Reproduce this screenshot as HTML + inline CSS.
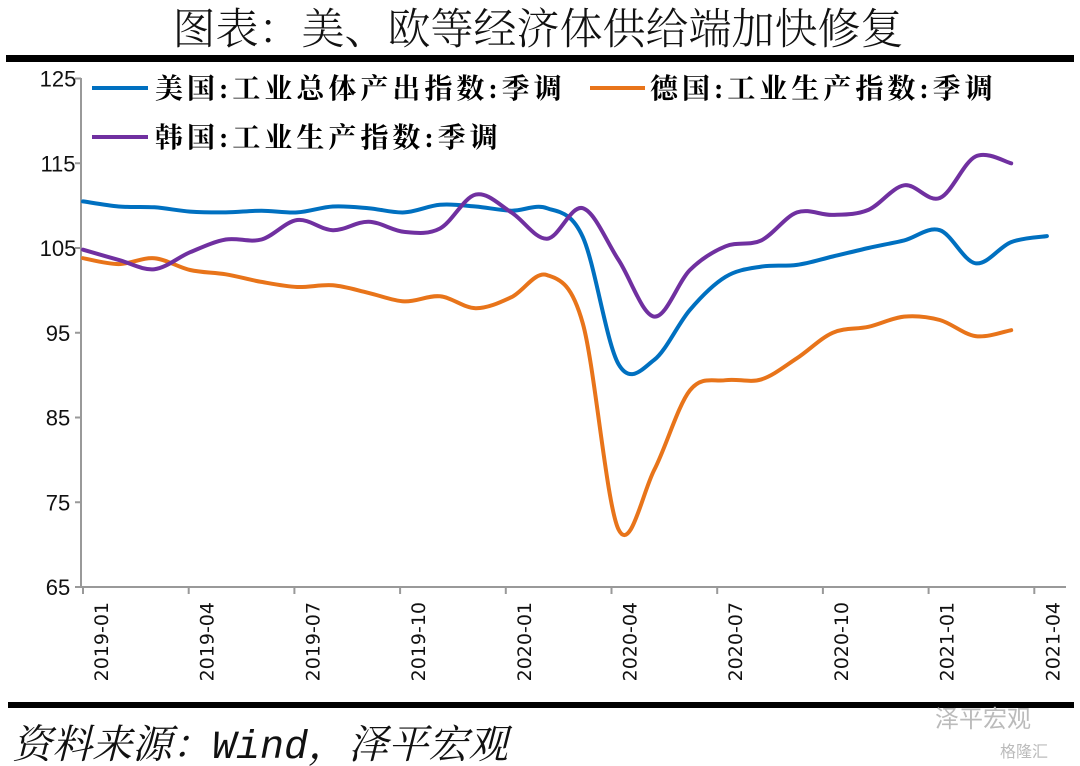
<!DOCTYPE html>
<html><head><meta charset="utf-8">
<style>
body{margin:0;background:#fff;}
svg{display:block;}
</style></head>
<body>
<svg id="chart" width="1080" height="766" viewBox="0 0 1080 766" xmlns="http://www.w3.org/2000/svg">
<text x="538" y="44" text-anchor="middle" font-family="'Noto Serif CJK SC','Liberation Serif',serif" font-size="43" font-weight="300" fill="#111">图表：美、欧等经济体供给端加快修复</text>
<rect x="6" y="55" width="1068" height="7" fill="#000"/>
<g id="axes"></g>
<g id="series"></g>
<g>
 <g>
  <line x1="92" y1="88" x2="148" y2="88" stroke="#0070C0" stroke-width="4"/>
  <text x="155" y="98" font-family="'Liberation Serif','Noto Serif CJK SC',serif" font-size="28" letter-spacing="4" font-weight="bold" fill="#000">美国:工业总体产出指数:季调</text>
 </g>
 <g>
  <line x1="590" y1="88" x2="645" y2="88" stroke="#E8741A" stroke-width="4"/>
  <text x="650" y="98" font-family="'Liberation Serif','Noto Serif CJK SC',serif" font-size="28" letter-spacing="4" font-weight="bold" fill="#000">德国:工业生产指数:季调</text>
 </g>
 <g>
  <line x1="92" y1="137" x2="148" y2="137" stroke="#7030A0" stroke-width="4"/>
  <text x="155" y="147" font-family="'Liberation Serif','Noto Serif CJK SC',serif" font-size="28" letter-spacing="4" font-weight="bold" fill="#000">韩国:工业生产指数:季调</text>
 </g>
</g>
<rect x="8" y="702" width="1066" height="6" fill="#000"/>
<text x="12" y="758" font-family="'Liberation Mono','Noto Serif CJK SC',serif" font-style="italic" font-size="40" fill="#111">资料来源：Wind，泽平宏观</text>
<text x="935" y="727" font-family="'Noto Sans CJK SC',sans-serif" font-size="24" fill="#bbb">泽平宏观</text>
<text x="1000" y="757" font-family="'Noto Sans CJK SC',sans-serif" font-size="16" fill="#bbb">格隆汇</text>
</svg>
<script>
const yTicks=[65,75,85,95,105,115,125];
const xTickLabels=["2019-01","2019-04","2019-07","2019-10","2020-01","2020-04","2020-07","2020-10","2021-01","2021-04"];
const usValues=[110.5,109.9,109.8,109.3,109.2,109.4,109.2,109.9,109.7,109.2,110.1,109.9,109.4,109.7,106.3,91.3,91.8,97.7,101.6,102.8,103.0,104.0,105.0,105.9,107.1,103.2,105.7,106.4];
const deValues=[103.8,103.1,103.8,102.4,101.9,101.0,100.4,100.6,99.7,98.7,99.3,97.9,99.2,101.8,96.1,71.8,78.8,88.2,89.4,89.5,92.0,95.0,95.7,96.9,96.5,94.6,95.3];
const krValues=[104.8,103.6,102.5,104.5,106.0,106.0,108.3,107.1,108.1,106.9,107.3,111.3,109.2,106.1,109.7,103.6,96.9,102.4,105.2,105.9,109.2,108.9,109.5,112.4,110.9,115.8,115.0];
const NS='http://www.w3.org/2000/svg';
function yS(v){return 587-(v-65)*(587-78.5)/60;}
function xS(i){return 83+35.7*i;}
function xT(k){return 83+105.7*k;}
function mk(tag,attrs,parent){const e=document.createElementNS(NS,tag);for(const k in attrs)e.setAttribute(k,attrs[k]);parent.appendChild(e);return e;}
const axes=document.getElementById('axes');
const yAxis=mk('line',{x1:81,y1:78,x2:81,y2:587,stroke:'#999','stroke-width':2},axes);


const xAxis=mk('line',{x1:81,y1:587,x2:1066,y2:587,stroke:'#999','stroke-width':2},axes);


yTicks.forEach(v=>{
 const t=mk('line',{x1:75,y1:yS(v),x2:81,y2:yS(v),stroke:'#999','stroke-width':2},axes);
 
 
 const l=mk('text',{x:58,y:yS(v)+8,'text-anchor':'middle','font-family':'Liberation Sans, sans-serif','font-size':22,fill:'#111'},axes);
 l.textContent=v;
 
 
});
xTickLabels.forEach((s,k)=>{
 const t=mk('line',{x1:xT(k),y1:587,x2:xT(k),y2:594,stroke:'#999','stroke-width':2},axes);
 
 
 const cx=xT(k)+18;
 const l=mk('text',{x:cx,y:602,'text-anchor':'end','font-family':'DejaVu Sans, sans-serif','font-size':19,fill:'#111',transform:'rotate(-90 '+cx+' 602)',dy:'7'},axes);
 l.textContent=s;
 
 
});
function smooth(vals){
 const p=vals.map((v,i)=>[xS(i),yS(v)]);
 let d='M'+p[0][0]+','+p[0][1];
 for(let i=0;i<p.length-1;i++){
  const p0=p[i-1]||p[i],p1=p[i],p2=p[i+1],p3=p[i+2]||p2;
  const c1=[p1[0]+(p2[0]-p0[0])/6,p1[1]+(p2[1]-p0[1])/6];
  const c2=[p2[0]-(p3[0]-p1[0])/6,p2[1]-(p3[1]-p1[1])/6];
  d+=' C'+c1[0].toFixed(1)+','+c1[1].toFixed(1)+' '+c2[0].toFixed(1)+','+c2[1].toFixed(1)+' '+p2[0].toFixed(1)+','+p2[1].toFixed(1);
 }
 return d;
}
const series=document.getElementById('series');
const sUS=mk('path',{d:smooth(usValues),fill:'none',stroke:'#0070C0','stroke-width':4,'stroke-linecap':'round'},series);


const sDE=mk('path',{d:smooth(deValues),fill:'none',stroke:'#E8741A','stroke-width':4,'stroke-linecap':'round'},series);


const sKR=mk('path',{d:smooth(krValues),fill:'none',stroke:'#7030A0','stroke-width':4,'stroke-linecap':'round'},series);


</script>
</body></html>
